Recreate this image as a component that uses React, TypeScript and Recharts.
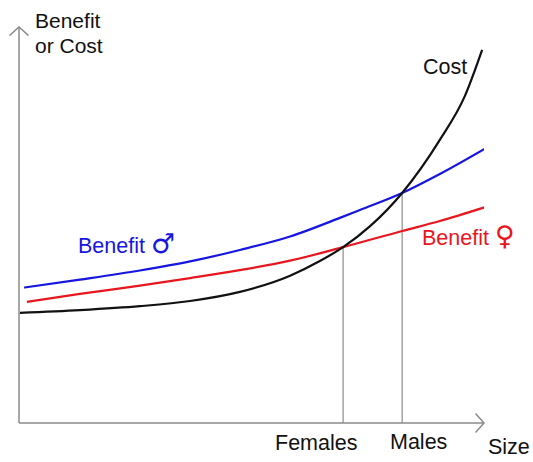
import { LineChart, Line, XAxis, YAxis } from "recharts";

// size runs 0..100 along the x axis, benefit/cost 0..100 up the y axis
const costSize = [0.2, 13.1, 26.0, 36.8, 47.5, 58.3, 64.7, 69.7, 75.5, 82.4, 90.5, 95.9, 99.6];
const costValues = [27.8, 28.5, 29.5, 30.8, 33.1, 37.2, 40.9, 44.4, 49.7, 58.1, 71.5, 82.6, 94.2];

const maleSize = [1.1, 13.1, 26.0, 36.8, 47.5, 58.3, 69.0, 73.3, 82.4, 90.5, 101.1];
const maleBenefit = [34.2, 36.2, 38.5, 40.8, 43.7, 47.1, 51.8, 53.8, 58.1, 62.9, 69.9];

const femaleSize = [1.7, 13.1, 26.0, 36.8, 47.5, 58.3, 69.7, 82.4, 90.5, 100.2];
const femaleBenefit = [30.6, 32.6, 34.7, 36.6, 38.6, 41.0, 44.4, 48.5, 51.0, 54.5];

// optimum sizes, where cost meets each benefit curve
const optimumLabels = ["Females", "Males"];
const optimumSize = [69.7, 82.4];
const optimumValue = [44.4, 58.1];

const zip = (xs: number[], ys: number[]) => xs.map((x, i) => ({ x, y: ys[i] }));

const costData = zip(costSize, costValues);
const maleData = zip(maleSize, maleBenefit);
const femaleData = zip(femaleSize, femaleBenefit);
const dropLines = optimumSize.map((x, i) => [
  { x, y: 0 },
  { x, y: optimumValue[i] },
]);

const font = "'Liberation Sans', Arial, sans-serif";
const symbolFont = "'DejaVu Sans', sans-serif";
const axisColor = "#8a8a8a";
const blue = "#1616e0";
const red = "#e8161e";

export default function App() {
  return (
    <div style={{ position: "relative", width: 533, height: 462, background: "#fff" }}>
      <style>{`body{margin:0}`}</style>
      <svg width={0} height={0} style={{ position: "absolute" }}>
        <defs>
          <marker
            id="arrowHead"
            viewBox="0 0 10 20"
            refX={9}
            refY={10}
            markerWidth={10}
            markerHeight={20}
            markerUnits="userSpaceOnUse"
            orient="auto-start-reverse"
          >
            <path d="M0.5,0.5 L9,10 L0.5,19.5" fill="none" stroke={axisColor} strokeWidth={1.5} />
          </marker>
        </defs>
      </svg>
      <LineChart
        width={533}
        height={462}
        margin={{ top: 27, left: 18, right: 49, bottom: 38 }}
      >
        <XAxis
          type="number"
          dataKey="x"
          domain={[0, 100]}
          allowDataOverflow
          height={1}
          tick={false}
          tickLine={false}
          axisLine={{ stroke: axisColor, strokeWidth: 1.5, markerEnd: "url(#arrowHead)" }}
        />
        <YAxis
          type="number"
          dataKey="y"
          domain={[0, 100]}
          width={1}
          tick={false}
          tickLine={false}
          axisLine={{ stroke: axisColor, strokeWidth: 1.5, markerStart: "url(#arrowHead)" }}
        />
        {dropLines.map((d, i) => (
          <Line
            key={optimumLabels[i]}
            data={d}
            dataKey="y"
            stroke="#8c8c8c"
            strokeWidth={1.2}
            dot={false}
            isAnimationActive={false}
          />
        ))}
        <Line
          data={femaleData}
          dataKey="y"
          type="monotone"
          stroke={red}
          strokeWidth={2.2}
          dot={false}
          isAnimationActive={false}
        />
        <Line
          data={maleData}
          dataKey="y"
          type="monotone"
          stroke={blue}
          strokeWidth={2.2}
          dot={false}
          isAnimationActive={false}
        />
        <Line
          data={costData}
          dataKey="y"
          type="monotone"
          stroke="#111"
          strokeWidth={2.2}
          dot={false}
          isAnimationActive={false}
        />
      </LineChart>
      <svg
        width={533}
        height={462}
        style={{ position: "absolute", left: 0, top: 0, pointerEvents: "none" }}
        fontFamily={font}
        fontSize={21.5}
      >
        <text x={35} y={28} fill="#111" fontSize={21}>Benefit</text>
        <text x={35} y={53} fill="#111" fontSize={21}>or Cost</text>
        <text x={423} y={74} fill="#111">Cost</text>
        <text x={78} y={253} fill={blue}>
          Benefit <tspan fontFamily={symbolFont} fontSize={27}>♂</tspan>
        </text>
        <text x={422} y={245} fill={red}>
          Benefit <tspan fontFamily={symbolFont} fontSize={27}>♀</tspan>
        </text>
        <text x={275} y={450} fill="#111">{optimumLabels[0]}</text>
        <text x={390} y={449} fill="#111">{optimumLabels[1]}</text>
        <text x={488} y={454} fill="#111">Size</text>
      </svg>
    </div>
  );
}
